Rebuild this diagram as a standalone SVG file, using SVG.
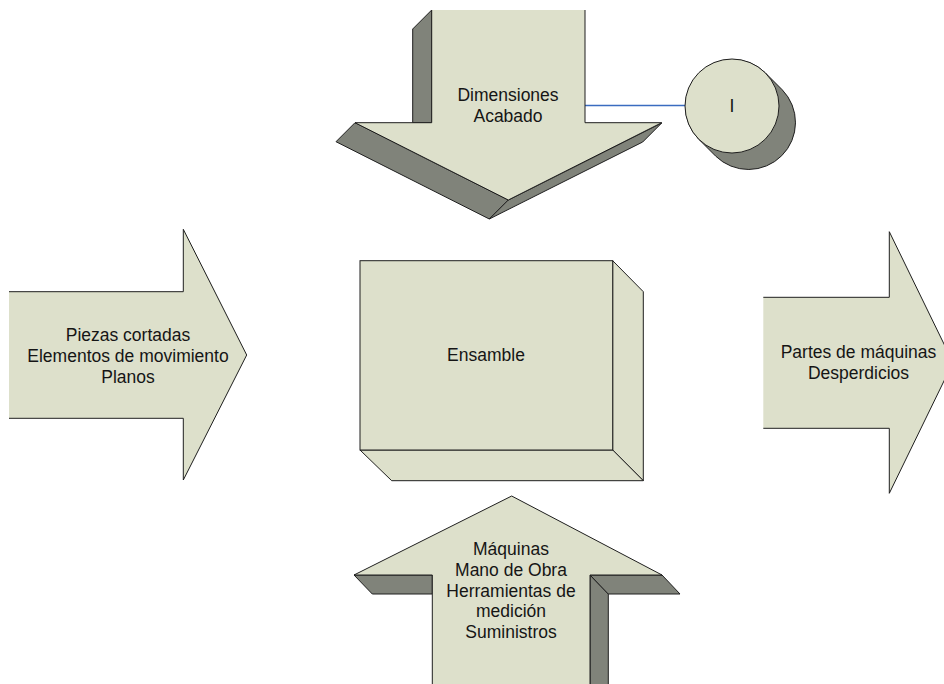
<svg xmlns="http://www.w3.org/2000/svg" width="944" height="684" viewBox="0 0 944 684">
  <style>
    .face { fill: #dde0cb; stroke: #1e1e1e; stroke-width: 1; stroke-linejoin: miter; }
    .side { fill: #80837a; stroke: #1e1e1e; stroke-width: 1; }
    .skin { fill: #dde0cb; stroke: none; }
    .edge { fill: none; stroke: #1e1e1e; stroke-width: 1; }
    .lbl { font-family: "Liberation Sans", Arial, sans-serif; font-size: 17.5px; fill: #151515; text-anchor: middle; }
    .link { stroke: #3a6cc0; stroke-width: 1.3; fill: none; }
  </style>
  <rect width="944" height="684" fill="#ffffff"/>

  <!-- connectors -->
  <g id="connectors">
    <line class="link" x1="585" y1="105.5" x2="685" y2="105.5"/>
  </g>

  <!-- downward block arrow: Dimensiones / Acabado -->
  <g id="top-arrow">
    <polygon class="side" points="431.7,10 412.7,29 412.7,122.7 431.7,122.7"/>
    <polygon class="side" points="355,122.7 508.3,200 489.3,219 336,141.7"/>
    <polygon class="side" points="508.3,200 661.7,123 642.7,142 489.3,219"/>
    <polygon class="skin" points="431.7,10 585,10 585,122.7 661.7,122.7 508.3,200 355,122.7 431.7,122.7"/>
    <path class="edge" d="M585,10 L585,122.7 L661.7,122.7 L508.3,200 L355,122.7 L431.7,122.7 L431.7,10"/>
    <text class="lbl" x="508" y="100.7">Dimensiones</text>
    <text class="lbl" x="508" y="121.7">Acabado</text>
  </g>

  <!-- cylinder node: I -->
  <g id="node-i">
    <path class="side" d="M765.23,72.77 L782.23,89.77 A47,47 0 0 1 715.77,156.23 L698.77,139.23 A47,47 0 0 1 765.23,72.77 Z"/>
    <circle class="face" cx="732" cy="106" r="47"/>
    <text class="lbl" x="732" y="112">I</text>
  </g>

  <!-- left input arrow -->
  <g id="left-arrow">
    <path class="skin" d="M9,291.7 L183.3,291.7 L183.3,229.3 L246.7,355 L183.3,480 L183.3,418.3 L9,418.3 Z"/>
    <path class="edge" d="M9,291.7 L183.3,291.7 L183.3,229.3 L246.7,355 L183.3,480 L183.3,418.3 L9,418.3"/>
    <text class="lbl" x="128" y="340.7">Piezas cortadas</text>
    <text class="lbl" x="128" y="361.7">Elementos de movimiento</text>
    <text class="lbl" x="128" y="382.7">Planos</text>
  </g>

  <!-- central 3D box: Ensamble -->
  <g id="ensamble">
    <polygon class="face" points="612.7,260.7 643.3,291.7 643.3,480.7 612.7,450"/>
    <polygon class="face" points="360,450 612.7,450 643.3,480.7 391.7,480.7"/>
    <rect class="face" x="360" y="260.7" width="252.7" height="189.3"/>
    <text class="lbl" x="486" y="360.7">Ensamble</text>
  </g>

  <!-- right output arrow -->
  <g id="right-arrow">
    <path class="skin" d="M763.3,297.3 L889.3,297.3 L889.3,231.7 L953,362.5 L889.3,493.3 L889.3,428.3 L763.3,428.3 Z"/>
    <path class="edge" d="M763.3,297.3 L889.3,297.3 L889.3,231.7 L953,362.5 L889.3,493.3 L889.3,428.3 L763.3,428.3"/>
    <text class="lbl" x="858.5" y="358.3">Partes de máquinas</text>
    <text class="lbl" x="858.5" y="379.3">Desperdicios</text>
  </g>

  <!-- upward block arrow: resources -->
  <g id="bottom-arrow">
    <polygon class="side" points="354,575 432.3,575 432.3,594 372.3,594"/>
    <polygon class="side" points="590,575 608.3,594 608.3,700 590,700"/>
    <polygon class="side" points="590,575 662,575 680,594 608.3,594"/>
    <polygon class="face" points="511.7,496 662,575 590,575 590,700 432.3,700 432.3,575 354,575"/>
    <text class="lbl" x="511" y="555">Máquinas</text>
    <text class="lbl" x="511" y="575.8">Mano de Obra</text>
    <text class="lbl" x="511" y="596.6">Herramientas de</text>
    <text class="lbl" x="511" y="617.4">medición</text>
    <text class="lbl" x="511" y="638.2">Suministros</text>
  </g>
</svg>
